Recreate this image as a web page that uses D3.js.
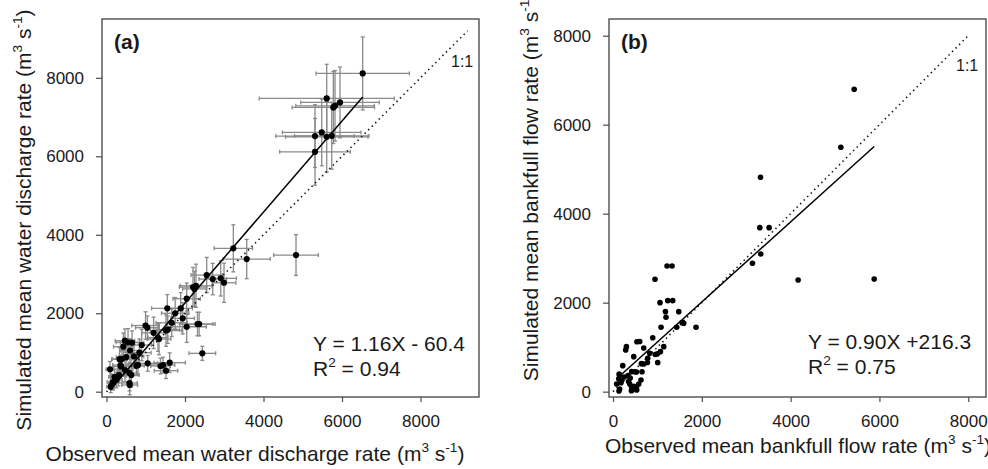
<!DOCTYPE html>
<html><head><meta charset="utf-8">
<script src="https://cdn.jsdelivr.net/npm/d3@7/dist/d3.min.js"></script>
<style>
html,body{margin:0;padding:0;background:#fff;}
svg text{font-family:"Liberation Sans",Arial,sans-serif;fill:#1a1a1a;}
</style></head>
<body>
<svg id="chart" width="988" height="469"></svg>
<script>
// ---------- DATA ----------
const tickValues = [0, 2000, 4000, 6000, 8000];

// Panel (a): observed vs simulated mean water discharge (m3 s-1) with error bars
const obsA = [6527,5610,5949,5822,5779,5483,5312,5610,5738,5312,
  3231,3572,4828,2553,2706,2910,2994,2204,2280,2240,
  2043,1890,1549,1941,1661,2043,2318,2360,1516,1560,
  994,1040,1338,1310,897,548,470,650,428,836,
  395,331,500,2441,1440,1376,1610,1516,1049,803,
  760,586,89,166,591,586,357,471,301,204,
  632,107,318,369,250,700,1200,1750,600,150];
const simA = [8112,7475,7373,7287,7246,6609,6515,6497,6522,6115,
  3654,3381,3483,2973,2871,2889,2777,2667,2700,2620,
  2370,2125,2125,1870,1758,1656,1725,1725,1559,1580,
  1687,1631,1343,1380,1190,1259,1300,1250,1147,994,
  833,828,880,978,680,655,739,535,723,680,
  660,476,571,247,171,222,680,553,400,375,
  425,127,425,642,300,900,1500,2000,1050,200];
const obsErrA = [1190,1720,1000,1000,1050,1000,1000,1050,950,900,
  490,600,570,400,350,400,300,350,400,300,
  350,300,400,300,400,500,450,350,400,300,
  350,300,300,250,250,300,250,300,250,300,
  250,200,250,340,300,250,400,300,250,250,
  200,200,100,150,200,200,200,200,200,150,
  200,100,200,200,150,250,300,350,250,100];
const simErrA = [930,870,900,900,920,850,800,900,850,850,
  600,500,520,450,400,450,500,500,550,450,
  400,400,350,400,350,400,300,300,400,350,
  350,300,400,350,400,350,300,300,350,350,
  300,300,300,180,200,200,250,200,200,250,
  250,250,200,200,250,200,250,300,250,200,
  300,150,200,250,200,300,400,400,300,150];

// Panel (b): observed vs simulated mean bankfull flow rate (m3 s-1)
const obsB = [5431,5131,3322,3306,3516,3328,3141,4169,5882,
  1217,1330,946,1233,1345,1059,1181,1194,1481,1082,1555,1593,1435,1870,895,
  538,602,286,302,692,1143,1068,951,1000,467,782,827,692,1007,775,219,
  489,653,420,527,140,144,388,338,631,640,83,189,421,376,534,527,135,150,428,414,
  250,180,470,580,130,350];
const simB = [6796,5492,4818,3686,3686,3094,2885,2510,2533,
  2825,2825,2526,2045,2045,2000,1798,1672,1798,1447,1551,1537,1447,1447,1213,
  1121,1128,937,1011,982,1011,899,836,850,787,750,863,622,652,656,584,
  449,449,450,443,398,375,308,360,263,630,173,240,83,173,38,76,16,60,38,22,
  330,200,120,170,290,230];

const fitA = {slope: 1.16, intercept: -60.4};
const fitB = {slope: 0.90, intercept: 216.3};
const oneToOneEndA = 9200, oneToOneEndB = 8000;

// ---------- DRAW ----------
const svg = d3.select("#chart");

function supText(sel, parts, size) {
  let prevSup = false;
  parts.forEach(([t, sup]) => {
    const ts = sel.append("tspan").text(t);
    if (sup && !prevSup) { ts.attr("dy", -size*0.42).attr("font-size", size*0.65); }
    else if (sup) { ts.attr("font-size", size*0.65); }
    else if (!sup && prevSup) { ts.attr("dy", size*0.42); }
    prevSup = sup;
  });
}

function panel(cfg) {
  const g = svg.append("g");
  const x = d3.scaleLinear().domain(cfg.xDom).range([cfg.left, cfg.right]);
  const y = d3.scaleLinear().domain(cfg.yDom).range([cfg.bottom, cfg.top]);

  g.append("rect").attr("x", cfg.left).attr("y", cfg.top)
    .attr("width", cfg.right - cfg.left).attr("height", cfg.bottom - cfg.top)
    .attr("fill", "none").attr("stroke", "#4d4d4d").attr("stroke-width", 1.4);

  const xAx = g.append("g").attr("transform", `translate(0,${cfg.bottom})`)
    .call(d3.axisBottom(x).tickValues(tickValues).tickSize(5).tickPadding(13).tickFormat(d3.format("d")));
  const yAx = g.append("g").attr("transform", `translate(${cfg.left},0)`)
    .call(d3.axisLeft(y).tickValues(tickValues).tickSize(6).tickPadding(12).tickFormat(d3.format("d")));
  [xAx, yAx].forEach(a => {
    a.select(".domain").remove();
    a.selectAll(".tick line").attr("stroke", "#4d4d4d").attr("stroke-width", 1.2);
    a.selectAll(".tick text").attr("font-size", 17).attr("fill", "#1a1a1a")
      .style("font-family", '"Liberation Sans",Arial,sans-serif');
  });

  if (cfg.xErr) {
    const eb = g.append("g").attr("stroke", "#8a8a8a").attr("stroke-width", 1.3).attr("fill", "none");
    cfg.obs.forEach((o, i) => {
      const s = cfg.sim[i], xe = cfg.xErr[i], ye = cfg.yErr[i];
      eb.append("line").attr("x1", x(o - xe)).attr("x2", x(o + xe)).attr("y1", y(s)).attr("y2", y(s));
      eb.append("line").attr("x1", x(o)).attr("x2", x(o)).attr("y1", y(s - ye)).attr("y2", y(s + ye));
      [o - xe, o + xe].forEach(v => eb.append("line").attr("x1", x(v)).attr("x2", x(v)).attr("y1", y(s) - 2).attr("y2", y(s) + 2));
      [s - ye, s + ye].forEach(v => eb.append("line").attr("x1", x(o) - 2).attr("x2", x(o) + 2).attr("y1", y(v)).attr("y2", y(v)));
    });
  }

  g.append("line").attr("x1", x(0)).attr("y1", y(0)).attr("x2", x(cfg.oneEnd)).attr("y2", y(cfg.oneEnd))
    .attr("stroke", "#111").attr("stroke-width", 1.6).attr("stroke-dasharray", "1.4,3.6");

  const xmin = d3.min(cfg.obs), xmax = d3.max(cfg.obs);
  g.append("line").attr("x1", x(xmin)).attr("y1", y(cfg.fit.slope*xmin + cfg.fit.intercept))
    .attr("x2", x(xmax)).attr("y2", y(cfg.fit.slope*xmax + cfg.fit.intercept))
    .attr("stroke", "#000").attr("stroke-width", 1.5);

  g.append("g").selectAll("circle").data(cfg.obs).join("circle")
    .attr("cx", d => x(d)).attr("cy", (d, i) => y(cfg.sim[i])).attr("r", cfg.r).attr("fill", "#000");

  g.append("text").attr("x", cfg.left + 12).attr("y", cfg.top + 30).attr("font-size", 21)
    .attr("font-weight", "bold").text(cfg.tag);
  g.append("text").attr("x", cfg.oneX).attr("y", cfg.oneY).attr("font-size", 16).text("1:1");

  g.append("text").attr("x", cfg.eqX).attr("y", cfg.eqY).attr("font-size", 21).text(cfg.eq);
  const r2 = g.append("text").attr("x", cfg.eqX).attr("y", cfg.eqY + 25).attr("font-size", 21);
  supText(r2, [["R", false], ["2", true], [" = " + cfg.r2, false]], 21);

  const xt = g.append("text").attr("x", cfg.xtX).attr("y", cfg.xtY).attr("font-size", 21).attr("text-anchor", "middle");
  supText(xt, [[cfg.xTitle + " (m", false], ["3", true], [" s", false], ["-1", true], [")", false]], 21);
  const yt = g.append("text").attr("transform", `translate(${cfg.ytX},${cfg.ytY}) rotate(-90)`)
    .attr("font-size", 21).attr("text-anchor", "middle");
  supText(yt, [[cfg.yTitle + " (m", false], ["3", true], [" s", false], ["-1", true], [")", false]], 21);
}

panel({
  left: 102, right: 479, top: 19, bottom: 397,
  xDom: [-115, 9490], yDom: [-135, 9500],
  obs: obsA, sim: simA, xErr: obsErrA, yErr: simErrA, r: 3.1,
  fit: fitA, oneEnd: oneToOneEndA, tag: "(a)", oneX: 451, oneY: 67,
  eq: "Y = 1.16X - 60.4", r2: "0.94", eqX: 313, eqY: 351,
  xTitle: "Observed mean water discharge rate", xtX: 255, xtY: 461,
  yTitle: "Simulated mean water discharge rate", ytX: 31, ytY: 220
});

panel({
  left: 609, right: 986, top: 19, bottom: 397,
  xDom: [-90, 8400], yDom: [-120, 8375],
  obs: obsB, sim: simB, r: 2.8,
  fit: fitB, oneEnd: oneToOneEndB, tag: "(b)", oneX: 956, oneY: 71,
  eq: "Y = 0.90X +216.3", r2: "0.75", eqX: 808, eqY: 349,
  xTitle: "Observed mean bankfull flow rate", xtX: 798, xtY: 453,
  yTitle: "Simulated mean bankfull flow rate", ytX: 538, ytY: 187
});
</script>
</body></html>
